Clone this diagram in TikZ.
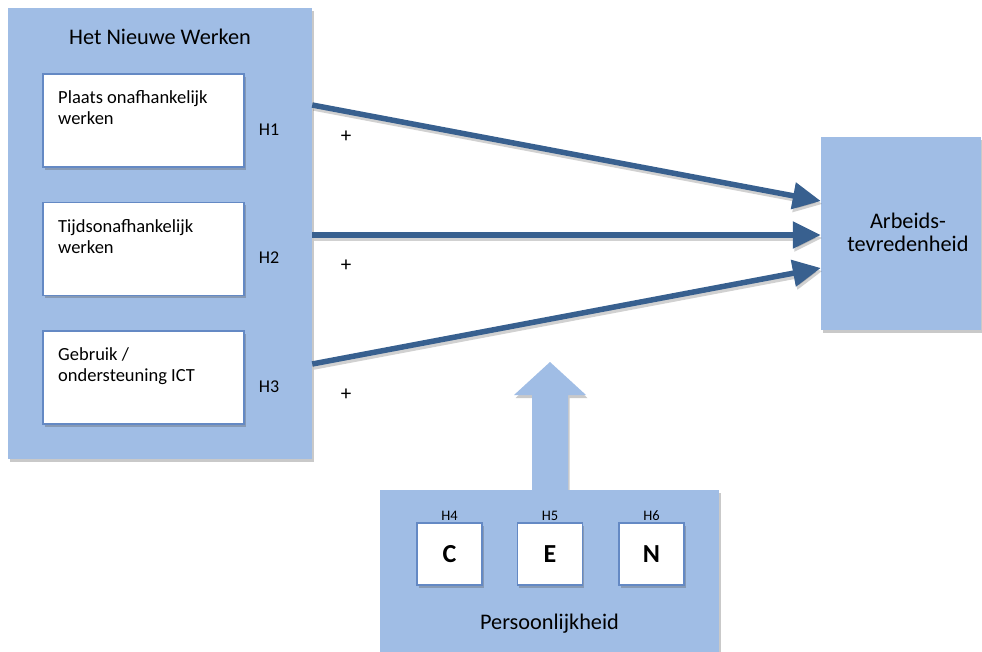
\documentclass[tikz,border=0pt]{standalone}
\usepackage{fontspec}
\setmainfont{Carlito}
\usetikzlibrary{arrows.meta,shadows}

\definecolor{panelblue}{HTML}{A0BDE5}
\definecolor{boxedge}{HTML}{6489C4}
\definecolor{linkblue}{HTML}{38608F}

\tikzset{
  panel/.style={fill=panelblue, draw=none, inner sep=0pt,
    drop shadow={shadow xshift=1.5pt, shadow yshift=-3pt, opacity=0.3, fill=black!70}},
  itembox/.style={fill=white, draw=boxedge, line width=1.6pt, inner sep=0pt,
    drop shadow={shadow xshift=1.5pt, shadow yshift=-2.5pt, opacity=0.3, fill=black!70}},
  traitbox/.style={itembox, minimum width=65pt, minimum height=62pt,
    font=\bfseries\fontsize{26}{30}\selectfont},
  itemtext/.style={anchor=north west, inner sep=0pt, align=left,
    font=\fontsize{18.5}{21}\selectfont},
  hlabel/.style={inner sep=0pt, font=\fontsize{18}{20}\selectfont},
  smallh/.style={inner sep=0pt, font=\fontsize{14.5}{16}\selectfont},
  plus/.style={inner sep=0pt, font=\fontsize{21}{22}\selectfont},
  heading/.style={inner sep=0pt, font=\fontsize{22.3}{23}\selectfont, align=center},
  link/.style={draw=linkblue, line width=5.5pt,
    -{Triangle[length=28pt,width=26pt]}},
  linkshadow/.style={draw=black, opacity=0.18, line width=5.5pt,
    -{Triangle[length=28pt,width=26pt]}},
}

\begin{document}
\begin{tikzpicture}[x=1pt, y=-1pt]
  \useasboundingbox (0,0) rectangle (982,651);
  \clip (0,0) rectangle (982,651);

  % left panel with its three items
  \node[panel, minimum width=304pt, minimum height=451pt] (nww) at (160,233.5) {};
  \node[heading] (nwwtitle) at (160,37) {Het Nieuwe Werken};

  \node[itembox, minimum width=201pt, minimum height=93pt] (b1) at (143.5,120.5) {};
  \node[itembox, minimum width=201pt, minimum height=93pt] (b2) at (143.5,249) {};
  \node[itembox, minimum width=201pt, minimum height=93pt] (b3) at (143.5,377.5) {};

  \node[itemtext] (t1) at (58,90.5) {Plaats onafhankelijk\\werken};
  \node[itemtext] (t2) at (58,219) {Tijdsonafhankelijk\\werken};
  \node[itemtext] (t3) at (58,347.5) {Gebruik /\\ondersteuning ICT};

  \node[hlabel] (h1) at (269,130) {H1};
  \node[hlabel] (h2) at (269,258) {H2};
  \node[hlabel] (h3) at (269,387) {H3};

  % outcome box
  \node[panel, minimum width=160pt, minimum height=193pt] (job) at (901,233.5) {};
  \node[heading] (jobtext) at (908,232) {Arbeids-\\tevredenheid};

  % moderator: block arrow and personality panel
  \path[fill=panelblue,
    drop shadow={shadow xshift=1.5pt, shadow yshift=-3pt, opacity=0.3, fill=black!70}]
    (532,492) -- (532,395) -- (514,395) -- (550,362) -- (586,395)
    -- (568,395) -- (568,492) -- cycle;
  \node[panel, minimum width=339pt, minimum height=180pt] (pers) at (549.5,580) {};

  \node[traitbox] (c) at (449.5,554) {C};
  \node[traitbox] (e) at (550,554) {E};
  \node[traitbox] (n) at (651.5,554) {N};
  \node[smallh] (h4) at (449.5,515.5) {H4};
  \node[smallh] (h5) at (550,515.5) {H5};
  \node[smallh] (h6) at (651.5,515.5) {H6};
  \node[heading] (perstext) at (549.5,624) {Persoonlijkheid};

  % hypothesised effects
  \coordinate (s1) at (nww.east |- 0,105);
  \coordinate (s2) at (nww.east |- 0,235);
  \coordinate (s3) at (nww.east |- 0,364);
  \coordinate (e1) at (job.west |- 0,201);
  \coordinate (e2) at (job.west |- 0,235);
  \coordinate (e3) at (job.west |- 0,268);

  \foreach \a/\b in {s1/e1, s2/e2, s3/e3}{
    \draw[linkshadow] ([shift={(1.5,3)}]\a) -- ([shift={(1.5,3)}]\b);
  }
  \draw[link] (s1) -- (e1);
  \draw[link] (s2) -- (e2);
  \draw[link] (s3) -- (e3);

  \node[plus] (p1) at (346,137) {+};
  \node[plus] (p2) at (346,266) {+};
  \node[plus] (p3) at (346,395) {+};
\end{tikzpicture}
\end{document}
